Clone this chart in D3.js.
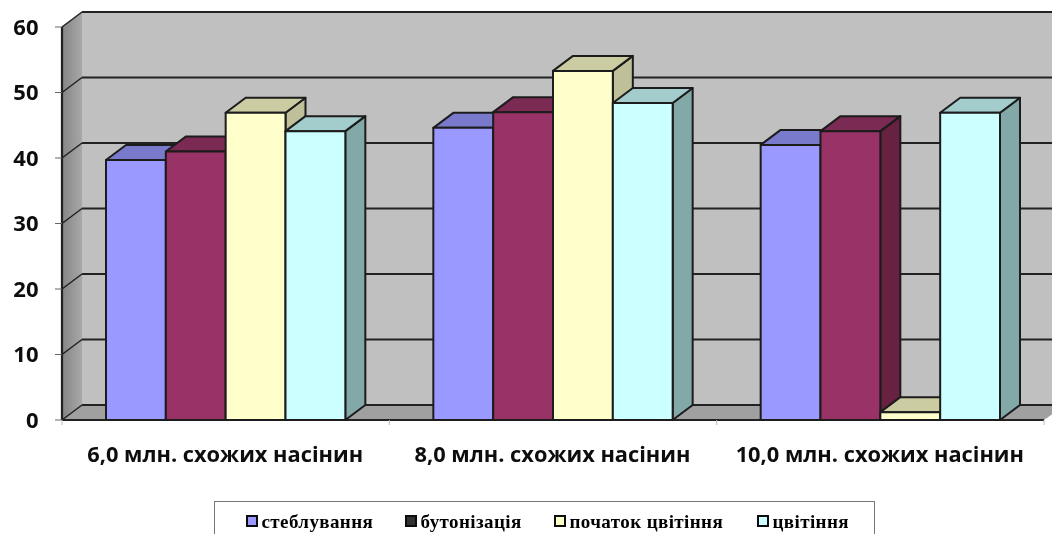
<!DOCTYPE html>
<html>
<head>
<meta charset="utf-8">
<script src="https://cdn.jsdelivr.net/npm/d3@7"></script>
<style>
    html, body { margin: 0; padding: 0; background: #fff; overflow: hidden; }
    svg { display: block; }
</style>
</head>
<body>
<div id="chart"></div>
<script>
// Values
const categories = ["6,0 млн. схожих насінин", "8,0 млн. схожих насінин", "10,0 млн. схожих насінин"];
const seriesNames = ["стеблування", "бутонізація", "початок цвітіння", "цвітіння"];
const stemming = [39.7, 44.6, 42];
const budding = [41, 47, 44.1];
const floweringStart = [46.9, 53.3, 1.2];
const flowering = [44.1, 48.4, 46.9];
const seriesValues = [stemming, budding, floweringStart, flowering];
const yTicks = [0, 10, 20, 30, 40, 50, 60];

// front, top, side colours of each series
const frontColors = ["#9999ff", "#993366", "#ffffcc", "#ccffff"];
const topColors = ["#7a7acc", "#7a2952", "#cccca3", "#a3cccc"];
const sideColors = ["#7373bf", "#66203f", "#bfbf99", "#82a8a8"];
const legendColors = ["#9999ff", "#333333", "#ffffcc", "#ccffff"];

const width = 1052, height = 534;
const depthX = 20, depthY = -15;
const lineColor = "#222";

const svg = d3.select("#chart").append("svg")
    .attr("width", width)
    .attr("height", height)
    .style("font-family", "'Open Sans', sans-serif");

const x = d3.scaleBand().domain(categories).range([62, 1044]).paddingInner(0).paddingOuter(0);
const x1 = d3.scaleBand().domain(d3.range(seriesNames.length))
    .range([44, x.bandwidth() - 44]);
const y = d3.scaleLinear().domain([0, 60]).range([420, 27]);

const defs = svg.append("defs");
const wallGrad = defs.append("linearGradient").attr("id", "sideWall");
wallGrad.append("stop").attr("offset", "0").attr("stop-color", "#858585");
wallGrad.append("stop").attr("offset", "1").attr("stop-color", "#a8a8a8");
defs.append("filter").attr("id", "soft")
    .append("feGaussianBlur").attr("stdDeviation", 0.6);
defs.append("filter").attr("id", "softText")
    .append("feGaussianBlur").attr("stdDeviation", 0.3);

function poly(points) {
    return points.map(p => p.join(",")).join(" ");
}

const plot = svg.append("g").attr("filter", "url(#soft)");
const x0 = x.range()[0], x2 = x.range()[1];

// Back wall
plot.append("polygon")
    .attr("points", poly([[x0 + depthX, y(60) + depthY], [width + 10, y(60) + depthY], [width + 10, y(0) + depthY], [x0 + depthX, y(0) + depthY]]))
    .attr("fill", "#c0c0c0");

// Side wall
plot.append("polygon")
    .attr("points", poly([[x0, y(60)], [x0 + depthX, y(60) + depthY], [x0 + depthX, y(0) + depthY], [x0, y(0)]]))
    .attr("fill", "url(#sideWall)");

// Floor
plot.append("polygon")
    .attr("points", poly([[x0, y(0)], [x0 + depthX, y(0) + depthY], [width + 10, y(0) + depthY], [x2 + 10, y(0) - 7], [x2, y(0)]]))
    .attr("fill", "#a0a0a0");

// Gridlines on back wall and side wall
yTicks.forEach(t => {
    plot.append("line")
        .attr("x1", x0 + depthX).attr("x2", width + 10)
        .attr("y1", y(t) + depthY).attr("y2", y(t) + depthY)
        .attr("stroke", lineColor).attr("stroke-width", 2);
    plot.append("line")
        .attr("x1", x0).attr("x2", x0 + depthX)
        .attr("y1", y(t)).attr("y2", y(t) + depthY)
        .attr("stroke", lineColor).attr("stroke-width", 1.5);
});

// Left edge of side wall and baseline
plot.append("line").attr("x1", x0).attr("x2", x0).attr("y1", y(60)).attr("y2", y(0))
    .attr("stroke", lineColor).attr("stroke-width", 2.2);
plot.append("line").attr("x1", x0).attr("x2", x2).attr("y1", y(0)).attr("y2", y(0))
    .attr("stroke", lineColor).attr("stroke-width", 2.2);

// Ticks
plot.selectAll(".ytick").data(yTicks).enter().append("line")
    .attr("x1", x0 - 7).attr("x2", x0)
    .attr("y1", d => y(d)).attr("y2", d => y(d))
    .attr("stroke", "#666").attr("stroke-width", 1);
plot.selectAll(".xtick").data(d3.range(categories.length + 1)).enter().append("line")
    .attr("x1", i => x0 + i * x.step()).attr("x2", i => x0 + i * x.step())
    .attr("y1", y(0)).attr("y2", y(0) + 5)
    .attr("stroke", "#bbb").attr("stroke-width", 1);

// Bars, painted left to right so each front covers the neighbour's side
categories.forEach((cat, c) => {
    seriesValues.forEach((values, s) => {
        const left = x(cat) + x1(s);
        const right = left + x1.bandwidth();
        const top = y(values[c]);
        const base = y(0);
        const g = plot.append("g")
            .attr("stroke", "#1c1c1c")
            .attr("stroke-width", 2)
            .attr("stroke-linejoin", "round");
        g.append("polygon")
            .attr("points", poly([[right, top], [right + depthX, top + depthY], [right + depthX, base + depthY], [right, base]]))
            .attr("fill", sideColors[s]);
        g.append("polygon")
            .attr("points", poly([[left, top], [left + depthX, top + depthY], [right + depthX, top + depthY], [right, top]]))
            .attr("fill", topColors[s]);
        g.append("rect")
            .attr("x", left).attr("y", top)
            .attr("width", x1.bandwidth()).attr("height", base - top)
            .attr("fill", frontColors[s]);
    });
});

const labels = svg.append("g").attr("filter", "url(#softText)");

// Value axis labels
labels.selectAll(".ylabel").data(yTicks).enter().append("text")
    .attr("x", 38.5).attr("y", d => y(d))
    .attr("dy", "0.36em")
    .attr("text-anchor", "end")
    .attr("font-size", 22)
    .attr("font-weight", 700)
    .attr("fill", "#111")
    .text(d => d);

// Category labels
labels.selectAll(".xlabel").data(categories).enter().append("text")
    .attr("x", d => x(d) + x.bandwidth() / 2 - 0.5)
    .attr("y", 462)
    .attr("text-anchor", "middle")
    .attr("font-size", 21.8)
    .attr("font-weight", 700)
    .attr("fill", "#111")
    .text(d => d);

// Legend
const legend = labels.append("g");
legend.append("rect")
    .attr("x", 214.5).attr("y", 501.5)
    .attr("width", 660).attr("height", 50)
    .attr("fill", "#fff").attr("stroke", "#777").attr("stroke-width", 1);

const legendX = [247, 406, 555, 758];
const legendItems = legend.selectAll(".item").data(seriesNames).enter().append("g")
    .attr("transform", (d, i) => "translate(" + legendX[i] + ",516)");
legendItems.append("rect")
    .attr("width", 10).attr("height", 10)
    .attr("fill", (d, i) => legendColors[i])
    .attr("stroke", "#111").attr("stroke-width", 2);
legendItems.append("text")
    .attr("x", 14.5).attr("y", 11.5)
    .attr("font-family", "'Liberation Serif', serif")
    .attr("font-size", 19)
    .attr("font-weight", 700)
    .attr("letter-spacing", 0.4)
    .attr("fill", "#000")
    .text(d => d);
</script>
</body>
</html>
